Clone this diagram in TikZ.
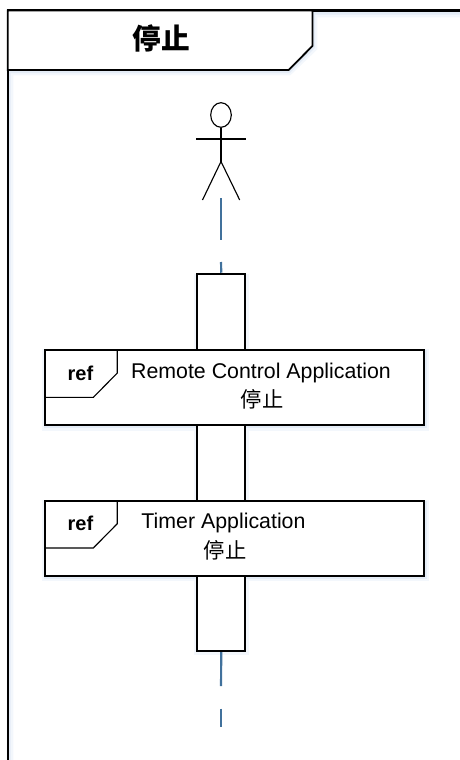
\documentclass[tikz,border=0pt]{standalone}
\usepackage{fontspec}
\setmainfont{Liberation Sans}
\newfontfamily\cjk{Noto Sans CJK SC}
\definecolor{lifeblue}{HTML}{41719C}
\definecolor{glowA}{HTML}{F3F7FC}
\definecolor{glowB}{HTML}{E4ECF6}
\tikzset{
  outline/.style={draw=black,line width=1.35pt},
  frameline/.style={draw=black,line width=1.6pt},
  thin outline/.style={draw=black,line width=0.85pt},
  lifeline/.style={draw=lifeblue,line width=1.6pt},
  glowwide/.style={draw=glowA,line width=5pt},
  glownarrow/.style={draw=glowB,line width=2.5pt},
  refbox/.style={outline,fill=white,minimum width=284pt,minimum height=56.25pt,inner sep=0pt},
  actbox/.style={draw=black,line width=1.5pt,fill=white,minimum width=36pt,minimum height=283pt,inner sep=0pt},
  halow/.style={fill=glowA,minimum width=290pt,minimum height=61pt,inner sep=0pt},
  halon/.style={fill=glowB,minimum width=287pt,minimum height=58.5pt,inner sep=0pt},
  reftext/.style={font=\fontsize{16}{18}\selectfont,align=center,inner sep=0pt},
  refbold/.style={font=\bfseries\fontsize{15}{17}\selectfont,inner sep=0pt},
  refcjk/.style={font=\cjk\fontsize{16}{18}\selectfont,inner sep=0pt},
  titlecjk/.style={font=\cjk\bfseries\fontsize{21.5}{24}\selectfont,inner sep=0pt},
}
\begin{document}
\begin{tikzpicture}[x=0.75pt,y=-0.75pt]
\useasboundingbox (0,0) rectangle (460,760);
% frame shadow
\draw[glowwide] (10,760) -- (10,72) -- (289,72) -- (314,48) -- (314,14) -- (460,14);
\draw[glownarrow] (9,760) -- (9,71.5) -- (289,71.5) -- (313.5,47) -- (313.5,13) -- (460,13);
% frame
\draw[frameline] (7.7,760) -- (7.7,10.5) -- (460,10.5);
\draw[outline,fill=white] (7.7,10.5) -- (312.4,10.5) -- (312.4,46) -- (288.7,70) -- (7.7,70) -- cycle;
\node[titlecjk] (title) at (161,38.5) {停止};
% actor
\coordinate (neck) at (221,127.5);
\coordinate (hip) at (221,161.5);
\coordinate (armL) at (196.3,139);
\coordinate (armR) at (246,139);
\coordinate (legL) at (202.5,200);
\coordinate (legR) at (239.7,200);
\draw[thin outline] (221,115) ellipse (10.3 and 12.3);
\draw[thin outline] (neck) -- (hip);
\draw[thin outline] (armL) -- (armR);
\draw[thin outline] (legL) -- (hip) -- (legR);
% shadows
\node[fill=glowA,minimum width=41pt,minimum height=286pt,inner sep=0pt] (barhalo) at (221.3,464.5) {};
\node[halow] (h1a) at (235.5,390) {};
\node[halon] (h1b) at (235.5,389) {};
\node[halow] (h2a) at (235.5,540.5) {};
\node[halon] (h2b) at (235.5,539.5) {};
% activation
\node[actbox] (bar) at (221.3,462.4) {};
% lifelines
\coordinate (top1) at (221,198);
\coordinate (top1e) at (221,239.5);
\coordinate (top2) at (221,262);
\coordinate (bot1e) at (221,686);
\coordinate (bot2) at (221,708.7);
\coordinate (bot2e) at (221,727.3);
\draw[lifeline] (top1) -- (top1e);
\draw[lifeline] (top2) -- (bar.north);
\draw[lifeline] (bar.south) -- (bot1e);
\draw[lifeline] (bot2) -- (bot2e);
% ref 1
\node[refbox] (r1) at (234.7,387.6) {};
\coordinate (p1a) at (117.3,350);
\coordinate (p1b) at (117.3,373);
\coordinate (p1c) at (93.3,397.4);
\coordinate (p1d) at (45,397.4);
\draw[thin outline] (p1a) -- (p1b) -- (p1c) -- (p1d);
\node[refbold] (l1) at (80.5,373) {ref};
\node[reftext] (t1) at (261,372.7) {Remote Control Application};
\node[refcjk] (t1b) at (262,399.5) {停止};
% ref 2
\node[refbox] (r2) at (234.7,538.2) {};
\coordinate (p2a) at (117.3,500.7);
\coordinate (p2b) at (117.3,523.7);
\coordinate (p2c) at (93.3,548);
\coordinate (p2d) at (45,548);
\draw[thin outline] (p2a) -- (p2b) -- (p2c) -- (p2d);
\node[refbold] (l2) at (80.5,523.5) {ref};
\node[reftext] (t2) at (223.5,523.2) {Timer Application};
\node[refcjk] (t2b) at (225,550) {停止};
\end{tikzpicture}
\end{document}
